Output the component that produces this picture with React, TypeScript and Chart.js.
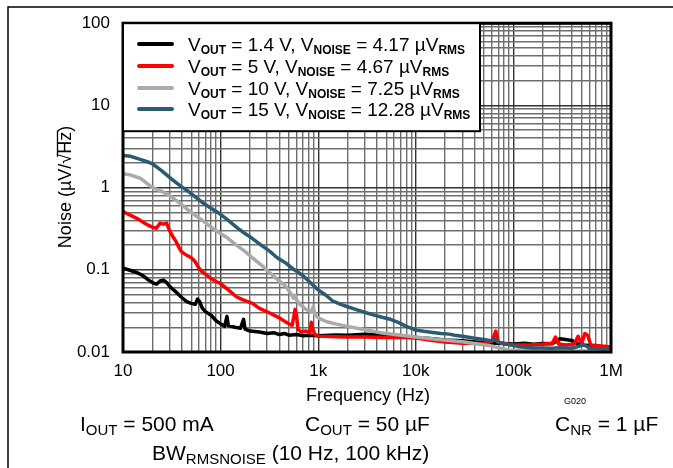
import React, { useEffect, useRef } from "react";
import { Chart, registerables } from "chart.js";

Chart.register(...registerables);

const FONT = "'Liberation Sans', Arial, Helvetica, sans-serif";

// ---- axes ----
const xDecades = [10, 100, 1000, 10000, 100000, 1000000];
const xTickLabels = ["10", "100", "1k", "10k", "100k", "1M"];
const yDecades = [0.01, 0.1, 1, 10, 100];
const yTickLabels = ["0.01", "0.1", "1", "10", "100"];
const minorSteps = [2, 3, 4, 5, 6, 7, 8, 9];

// ---- legend text ----
const voutValues = ["1.4", "5", "10", "15"];
const vnoiseValues = ["4.17", "4.67", "7.25", "12.28"];
const seriesColors = ["#000000", "#ff0000", "#aaaaaa", "#2b5a73"];

// ---- series: V_OUT = 1.4 V ----
const freq14 = [10, 12, 14, 16, 18, 20, 22, 24, 26, 28, 30, 33, 36, 40, 45, 50, 55, 58, 61, 65, 70, 80, 90, 100, 110, 116, 120, 140, 160, 172, 178, 200, 250, 300, 350, 400, 450, 500, 600, 700, 800, 1000, 1500, 2000, 3000, 4000, 6000, 10000, 15000, 20000, 30000, 50000, 70000, 100000, 130000, 160000, 200000, 250000, 300000, 400000, 450000, 500000, 600000, 700000, 800000, 1000000];
const noise14 = [0.105, 0.098, 0.092, 0.085, 0.076, 0.07, 0.067, 0.073, 0.075, 0.07, 0.063, 0.057, 0.052, 0.046, 0.041, 0.039, 0.038, 0.044, 0.041, 0.034, 0.031, 0.028, 0.024, 0.022, 0.0205, 0.027, 0.021, 0.02, 0.0195, 0.025, 0.019, 0.018, 0.0175, 0.0168, 0.0172, 0.0163, 0.0168, 0.016, 0.0163, 0.0158, 0.016, 0.0158, 0.0161, 0.016, 0.0165, 0.0162, 0.0158, 0.015, 0.0145, 0.014, 0.0137, 0.013, 0.0128, 0.0125, 0.0128, 0.0124, 0.0127, 0.0126, 0.0145, 0.0138, 0.0127, 0.0122, 0.012, 0.0118, 0.0115, 0.0113];

// ---- series: V_OUT = 5 V ----
const freq5 = [10, 12, 14, 16, 18, 20, 22, 24, 26, 28, 30, 32, 35, 38, 40, 45, 50, 55, 60, 65, 70, 80, 90, 100, 120, 145, 170, 212, 250, 315, 400, 470, 540, 560, 580, 600, 620, 670, 750, 820, 850, 880, 920, 1000, 1500, 2000, 3000, 5000, 7000, 10000, 15000, 20000, 30000, 50000, 60000, 66000, 70000, 100000, 150000, 200000, 250000, 270000, 290000, 350000, 420000, 460000, 500000, 540000, 580000, 620000, 800000, 1000000];
const noise5 = [0.51, 0.46, 0.42, 0.38, 0.35, 0.33, 0.32, 0.37, 0.36, 0.37, 0.3, 0.26, 0.22, 0.18, 0.165, 0.15, 0.14, 0.125, 0.105, 0.094, 0.088, 0.078, 0.072, 0.068, 0.057, 0.047, 0.043, 0.039, 0.034, 0.03, 0.026, 0.023, 0.021, 0.026, 0.033, 0.028, 0.019, 0.0175, 0.018, 0.017, 0.023, 0.019, 0.0165, 0.0156, 0.0153, 0.0152, 0.0152, 0.015, 0.0151, 0.0148, 0.0138, 0.0132, 0.0128, 0.0127, 0.0135, 0.018, 0.013, 0.0122, 0.0122, 0.0124, 0.0128, 0.0152, 0.0125, 0.0122, 0.0125, 0.0155, 0.0125, 0.0168, 0.0158, 0.0122, 0.0118, 0.0115];

// ---- series: V_OUT = 10 V ----
const freq10 = [10, 12, 15, 18, 20, 25, 30, 35, 40, 45, 55, 65, 80, 98, 120, 145, 175, 212, 260, 315, 380, 470, 520, 560, 580, 600, 650, 750, 850, 890, 920, 1000, 1200, 1500, 2000, 3100, 4500, 6700, 10000, 18000, 30000, 40000, 60000, 89000, 120000, 200000, 500000, 1000000];
const noise10 = [1.48, 1.42, 1.3, 1.1, 1.0, 0.9, 0.8, 0.7, 0.62, 0.55, 0.46, 0.4, 0.33, 0.28, 0.24, 0.2, 0.17, 0.14, 0.115, 0.093, 0.077, 0.062, 0.052, 0.045, 0.049, 0.043, 0.038, 0.033, 0.031, 0.036, 0.029, 0.026, 0.0235, 0.022, 0.0205, 0.0185, 0.017, 0.0161, 0.0152, 0.0141, 0.0133, 0.0127, 0.0118, 0.0106, 0.0104, 0.0103, 0.0103, 0.0104];

// ---- series: V_OUT = 15 V ----
const freq15 = [10, 12, 15, 18, 20, 25, 30, 35, 40, 45, 55, 65, 80, 98, 120, 145, 175, 212, 260, 315, 380, 470, 570, 690, 850, 1000, 1200, 1400, 1700, 2000, 2500, 3100, 3600, 4500, 5500, 6700, 8000, 10000, 12000, 15000, 18000, 22000, 25000, 30000, 40000, 50000, 60000, 64000, 68000, 80000, 89000, 110000, 130000, 160000, 200000, 250000, 300000, 400000, 520000, 560000, 600000, 700000, 850000, 1000000];
const noise15 = [2.45, 2.4, 2.2, 2.05, 1.95, 1.6, 1.33, 1.15, 1.02, 0.93, 0.77, 0.66, 0.56, 0.48, 0.4, 0.33, 0.28, 0.24, 0.2, 0.17, 0.14, 0.12, 0.1, 0.086, 0.068, 0.057, 0.049, 0.042, 0.038, 0.0355, 0.0325, 0.03, 0.0285, 0.0265, 0.025, 0.0228, 0.0205, 0.0185, 0.0179, 0.0173, 0.0168, 0.0165, 0.016, 0.0155, 0.0147, 0.0142, 0.0136, 0.0145, 0.0134, 0.0126, 0.0123, 0.0117, 0.0114, 0.0112, 0.0112, 0.0111, 0.0113, 0.0111, 0.0122, 0.0118, 0.0111, 0.011, 0.0109, 0.011];

const seriesFreqs = [freq14, freq5, freq10, freq15];
const seriesNoise = [noise14, noise5, noise10, noise15];

// ---- notes under the chart ----
const noteMain = ["I", "C", "C", "BW"];
const noteSub = ["OUT", "OUT", "NR", "RMSNOISE"];
const noteRest = [" = 500 mA", " = 50 µF", " = 1 µF", " (10 Hz, 100 kHz)"];
const xTitle = "Frequency (Hz)";
const figId = "G020";

const buildTicks = (decades: number[]) => {
  const vals: number[] = [];
  decades.forEach((d, i) => {
    vals.push(d);
    if (i < decades.length - 1) minorSteps.forEach((m) => vals.push(parseFloat((d * m).toPrecision(6))));
  });
  return vals;
};
const isDecade = (v: number) => Math.abs(Math.log10(v) - Math.round(Math.log10(v))) < 1e-6;
const labelFor = (v: number, decades: number[], labels: string[]) => {
  const i = decades.findIndex((d) => Math.abs(Math.log10(d) - Math.log10(v)) < 1e-6);
  return i >= 0 ? labels[i] : "";
};

type Seg = { t: string; size: number; bold?: boolean; dy?: number };
const drawRich = (ctx: CanvasRenderingContext2D, x: number, y: number, segs: Seg[]) => {
  let cx = x;
  ctx.textAlign = "left";
  ctx.textBaseline = "alphabetic";
  for (const s of segs) {
    ctx.font = `${s.bold ? "bold " : ""}${s.size}px ${FONT}`;
    ctx.fillText(s.t, cx, y + (s.dy || 0));
    cx += ctx.measureText(s.t).width;
  }
};

const decorPlugin = {
  id: "decor",
  beforeDraw(chart: any) {
    const ctx: CanvasRenderingContext2D = chart.ctx;
    ctx.save();
    ctx.fillStyle = "#fff";
    ctx.fillRect(0, 0, chart.width, chart.height);
    ctx.strokeStyle = "#000";
    ctx.lineWidth = 1.5;
    ctx.beginPath();
    ctx.moveTo(8, 468);
    ctx.lineTo(8, 7);
    ctx.lineTo(673, 7);
    ctx.stroke();
    ctx.restore();
  },
  afterDraw(chart: any) {
    const ctx: CanvasRenderingContext2D = chart.ctx;
    const a = chart.chartArea;
    ctx.save();
    // plot frame
    ctx.strokeStyle = "#000";
    ctx.lineWidth = 3;
    ctx.strokeRect(a.left, a.top, a.right - a.left, a.bottom - a.top);

    // legend
    const lx = a.left, ly = a.top, lw = 357, lh = 108;
    ctx.fillStyle = "#fff";
    ctx.fillRect(lx, ly, lw, lh);
    ctx.lineWidth = 2;
    ctx.strokeRect(lx, ly, lw, lh);
    const rowY = [44, 66, 88, 109];
    voutValues.forEach((vo, i) => {
      const cy = rowY[i];
      ctx.strokeStyle = seriesColors[i];
      ctx.lineWidth = 4;
      ctx.lineCap = "round";
      ctx.beginPath();
      ctx.moveTo(139, cy);
      ctx.lineTo(172, cy);
      ctx.stroke();
      ctx.fillStyle = "#000";
      drawRich(ctx, 188, cy + 7, [
        { t: "V", size: 19 },
        { t: "OUT", size: 12, bold: true, dy: 3 },
        { t: ` = ${vo} V, V`, size: 19 },
        { t: "NOISE", size: 12, bold: true, dy: 3 },
        { t: ` = ${vnoiseValues[i]} µV`, size: 19 },
        { t: "RMS", size: 12, bold: true, dy: 3 },
      ]);
    });

    // y axis title with vinculum over Hz
    ctx.fillStyle = "#000";
    ctx.translate(66, 187);
    ctx.rotate(-Math.PI / 2);
    ctx.font = `18px ${FONT}`;
    ctx.textBaseline = "middle";
    ctx.textAlign = "left";
    const p1 = "Noise (µV/", p2 = "√", p3 = "Hz", p4 = ")";
    const w1 = ctx.measureText(p1).width, w2 = ctx.measureText(p2).width, w3 = ctx.measureText(p3).width, w4 = ctx.measureText(p4).width;
    const total = w1 + w2 + w3 + w4;
    const sx = -total / 2;
    ctx.fillText(p1, sx, 0);
    ctx.fillText(p2, sx + w1, 0);
    ctx.fillText(p3, sx + w1 + w2, 0);
    ctx.fillText(p4, sx + w1 + w2 + w3, 0);
    ctx.lineWidth = 1.3;
    ctx.strokeStyle = "#000";
    ctx.beginPath();
    ctx.moveTo(sx + w1 + w2 * 0.75, -8.5);
    ctx.lineTo(sx + w1 + w2 + w3 + 1, -8.5);
    ctx.stroke();
    const dpr = chart.currentDevicePixelRatio || 1;
    ctx.setTransform(dpr, 0, 0, dpr, 0, 0);

    // x axis title
    ctx.font = `18px ${FONT}`;
    ctx.textAlign = "center";
    ctx.textBaseline = "middle";
    ctx.fillText(xTitle, 368, 396);
    ctx.font = `9px ${FONT}`;
    ctx.fillText(figId, 575, 402);

    // notes
    const noteX = [80, 305, 555, 152];
    const noteY = [431, 431, 431, 460];
    noteMain.forEach((m, i) => {
      drawRich(ctx, noteX[i], noteY[i], [
        { t: m, size: 21 },
        { t: noteSub[i], size: 15, dy: 4 },
        { t: noteRest[i], size: 21 },
      ]);
    });
    ctx.restore();
  },
};

const xTicks = buildTicks(xDecades);
const yTicks = buildTicks(yDecades);

export default function App() {
  const ref = useRef<HTMLCanvasElement>(null);
  useEffect(() => {
    if (!ref.current) return;
    const datasets = seriesFreqs.map((fr, i) => ({
      label: `VOUT = ${voutValues[i]} V`,
      data: fr.map((f, j) => ({ x: f, y: seriesNoise[i][j] })),
      borderColor: seriesColors[i],
      backgroundColor: seriesColors[i],
      borderWidth: 3.5,
      borderJoinStyle: "round",
      borderCapStyle: "round",
      pointRadius: 0,
      tension: 0,
      fill: false,
      order: 4 - i,
    }));
    const gridColor = (c: any) => (c.tick && isDecade(c.tick.value) ? "#333333" : "#6e6e6e");
    const chart = new Chart(ref.current, {
      type: "line",
      data: { datasets },
      plugins: [decorPlugin],
      options: {
        animation: false,
        responsive: false,
        events: [],
        layout: { padding: { left: 0, top: 22, right: 62, bottom: 0 } },
        plugins: { legend: { display: false }, tooltip: { enabled: false }, title: { display: false } },
        scales: {
          x: {
            type: "logarithmic",
            min: 10,
            max: 1000000,
            afterBuildTicks: (s: any) => {
              s.ticks = xTicks.map((v) => ({ value: v, major: isDecade(v) }));
            },
            afterFit: (s: any) => {
              s.height = 116;
            },
            ticks: {
              autoSkip: false,
              maxRotation: 0,
              padding: 9,
              color: "#000",
              font: { family: FONT, size: 17 },
              callback: (v: any) => labelFor(Number(v), xDecades, xTickLabels),
            },
            grid: { color: gridColor, lineWidth: 1.4, drawTicks: false },
            border: { display: false },
          },
          y: {
            type: "logarithmic",
            min: 0.01,
            max: 100,
            afterBuildTicks: (s: any) => {
              s.ticks = yTicks.map((v) => ({ value: v, major: isDecade(v) }));
            },
            afterFit: (s: any) => {
              s.width = 123;
            },
            ticks: {
              autoSkip: false,
              padding: 13,
              color: "#000",
              font: { family: FONT, size: 17 },
              callback: (v: any) => labelFor(Number(v), yDecades, yTickLabels),
            },
            grid: { color: gridColor, lineWidth: 1.4, drawTicks: false },
            border: { display: false },
          },
        },
      },
    } as any);
    return () => chart.destroy();
  }, []);
  return (
    <div style={{ position: "absolute", left: 0, top: 0, width: 673, height: 468, background: "#fff" }}>
      <canvas ref={ref} width={673} height={468} style={{ width: 673, height: 468, display: "block" }} />
    </div>
  );
}
